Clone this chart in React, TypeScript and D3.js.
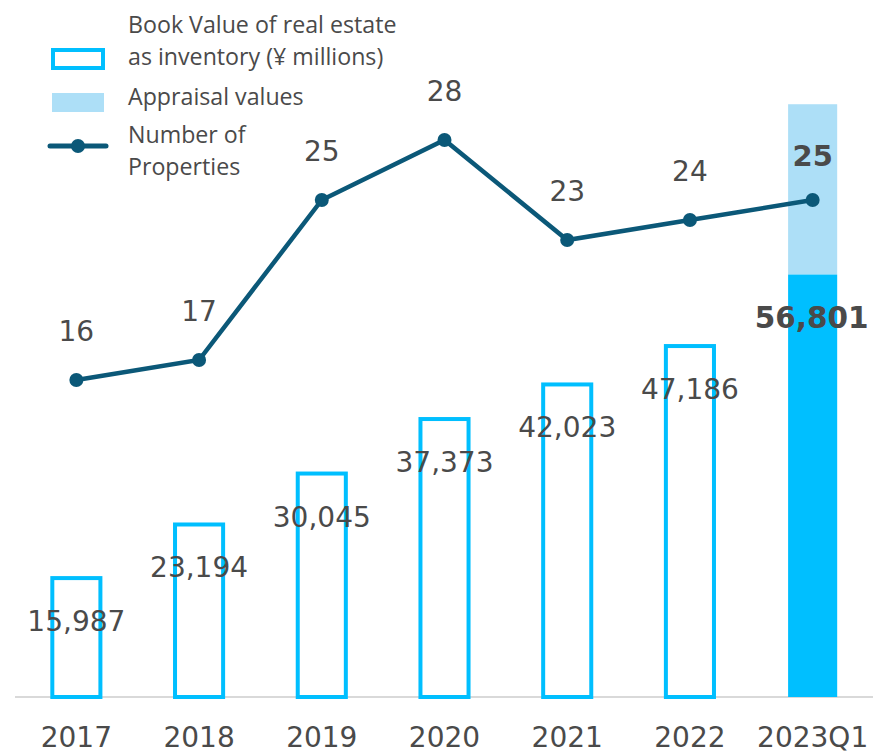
import * as d3 from "d3";

const categories = ["2017", "2018", "2019", "2020", "2021", "2022", "2023Q1"];
const bookValues = [15987, 23194, 30045, 37373, 42023, 47186, 56801];
const appraisalTotal = [0, 0, 0, 0, 0, 0, 79700];
const properties = [16, 17, 25, 28, 23, 24, 25];

const W = 873;
const H = 754;
const CYAN = "#00BFFF";
const LIGHT = "#ADDFF7";
const LINE = "#0B5878";
const TEXT = "#4A4A4A";
const NUM_FONT = "'DejaVu Sans', Verdana, sans-serif";
const LEG_FONT = "'Open Sans', 'Noto Sans', sans-serif";

const App = () => {
  const x = d3
    .scaleBand<string>()
    .domain(categories)
    .range([15, 874])
    .paddingInner(0.6)
    .paddingOuter(0.3);
  const y = d3.scaleLinear().domain([0, 80000]).range([697, 102]);
  const y2 = d3.scaleLinear().domain([0, 35]).range([700, 0]);

  const bw = x.bandwidth();
  const cx = (c: string) => (x(c) ?? 0) + bw / 2;
  const last = categories.length - 1;

  const line = d3
    .line<number>()
    .x((_, i) => cx(categories[i]))
    .y((d) => y2(d));

  return (
    <div style={{ position: "fixed", left: 0, top: 0 }}>
      <svg width={W} height={H} style={{ display: "block", background: "#fff" }}>
        {/* baseline */}
        <line x1={15} x2={W} y1={y(0)} y2={y(0)} stroke="#D9D9D9" strokeWidth={2} />

        {/* bars */}
        {categories.map((c, i) =>
          i === last ? (
            <g key={c}>
              <rect
                x={x(c)}
                y={y(appraisalTotal[i])}
                width={bw}
                height={y(bookValues[i]) - y(appraisalTotal[i])}
                fill={LIGHT}
              />
              <rect
                x={x(c)}
                y={y(bookValues[i])}
                width={bw}
                height={y(0) - y(bookValues[i])}
                fill={CYAN}
              />
            </g>
          ) : (
            <rect
              key={c}
              x={(x(c) ?? 0) + 0.5}
              y={y(bookValues[i])}
              width={bw - 1}
              height={y(0) - y(bookValues[i])}
              fill="none"
              stroke={CYAN}
              strokeWidth={4}
            />
          )
        )}

        {/* bar labels */}
        {categories.map((c, i) => (
          <text
            key={c}
            x={cx(c) + (i === last ? -1 : 0)}
            y={y(bookValues[i]) + 53}
            textAnchor="middle"
            fontFamily={NUM_FONT}
            fontSize={i === last ? 29.5 : 28}
            fontWeight={i === last ? "bold" : "normal"}
            fill={TEXT}
          >
            {d3.format(",")(bookValues[i])}
          </text>
        ))}

        {/* line */}
        <path d={line(properties) ?? ""} fill="none" stroke={LINE} strokeWidth={4.5} />
        {properties.map((v, i) => (
          <circle key={i} cx={cx(categories[i])} cy={y2(v)} r={7} fill={LINE} />
        ))}
        {properties.map((v, i) => (
          <text
            key={i}
            x={cx(categories[i])}
            y={y2(v) - (i === last ? 34 : 39)}
            textAnchor="middle"
            fontFamily={NUM_FONT}
            fontSize={i === last ? 29 : 28}
            fontWeight={i === last ? "bold" : "normal"}
            fill={TEXT}
          >
            {v}
          </text>
        ))}

        {/* x axis labels */}
        {categories.map((c) => (
          <text
            key={c}
            x={cx(c)}
            y={747}
            textAnchor="middle"
            fontFamily={NUM_FONT}
            fontSize={28}
            fill={TEXT}
          >
            {c}
          </text>
        ))}

        {/* legend */}
        <g fontFamily={LEG_FONT} fontSize={23.2} fill={TEXT}>
          <rect x={53} y={50} width={50} height={18} fill="none" stroke={CYAN} strokeWidth={4} />
          <text x={128} y={33}>Book Value of real estate</text>
          <text x={128} y={65}>as inventory (¥ millions)</text>
          <rect x={52} y={93} width={52} height={19} fill={LIGHT} />
          <text x={128} y={105}>Appraisal values</text>
          <line x1={50} x2={106} y1={146} y2={146} stroke={LINE} strokeWidth={5} strokeLinecap="round" />
          <circle cx={78} cy={146} r={7} fill={LINE} />
          <text x={128} y={143}>Number of</text>
          <text x={128} y={175}>Properties</text>
        </g>
      </svg>
    </div>
  );
};

export default App;
